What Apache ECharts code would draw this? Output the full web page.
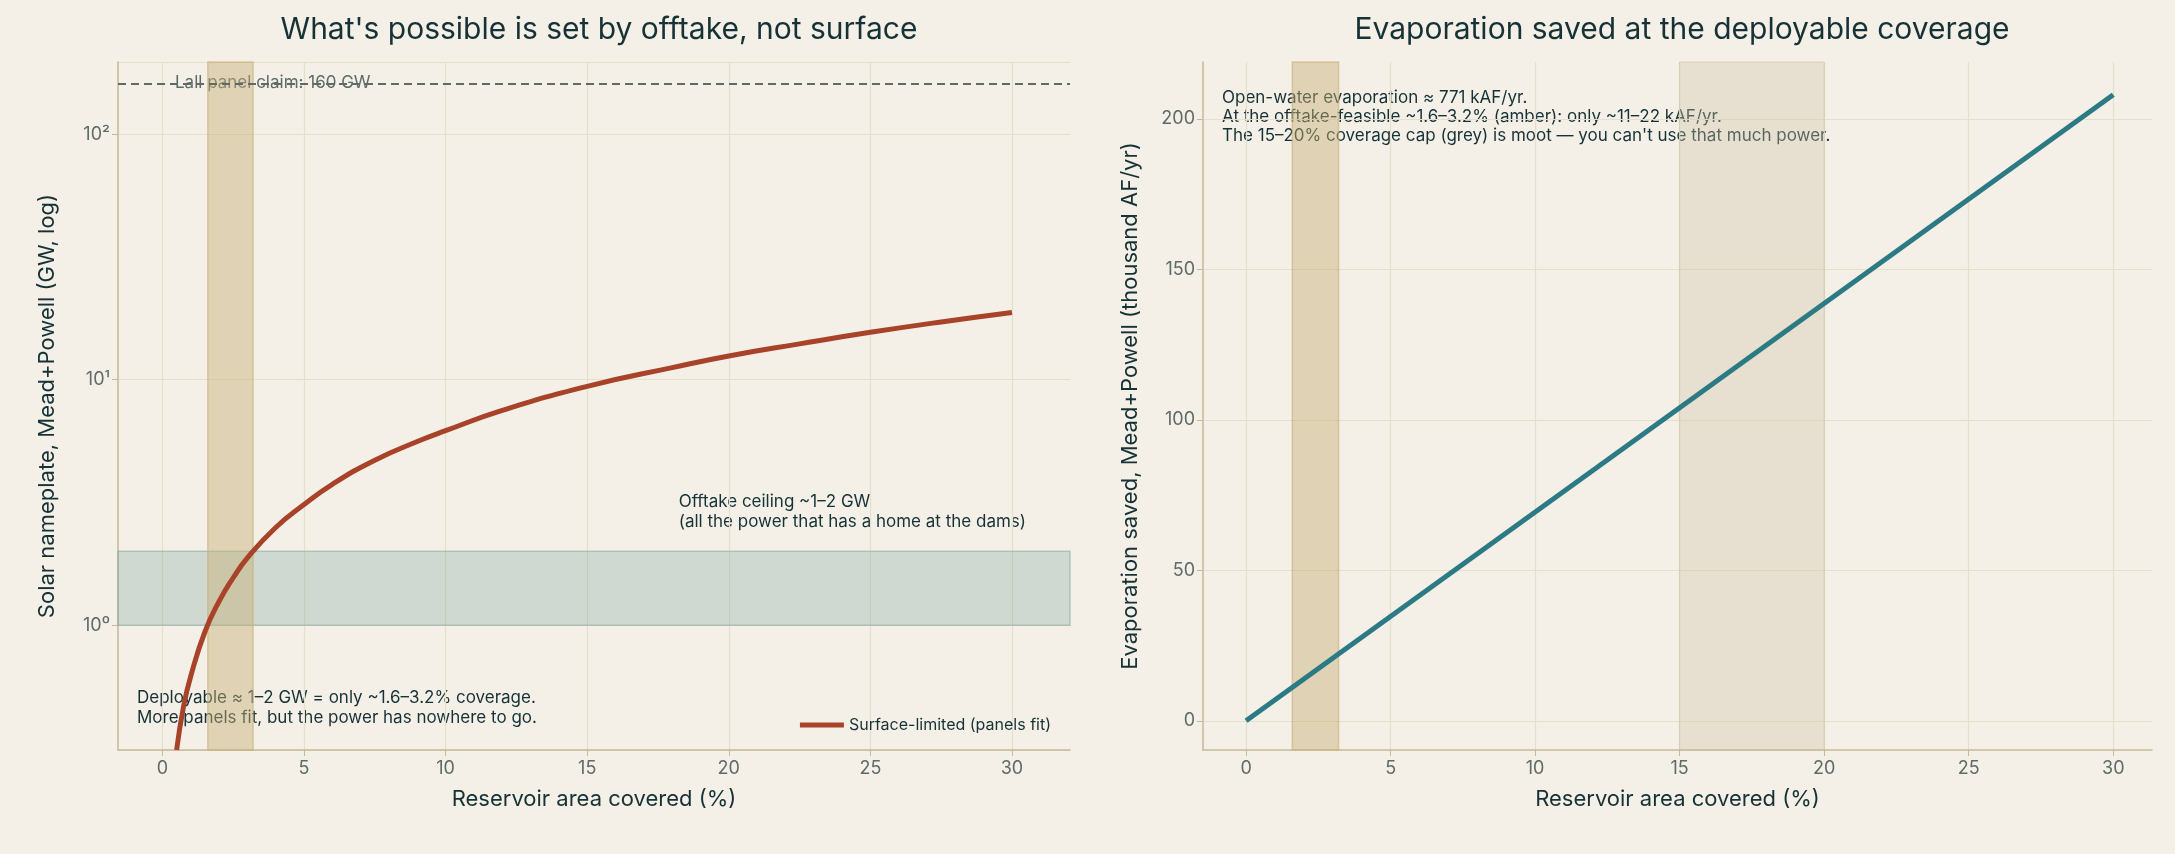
<!DOCTYPE html>
<html><head><meta charset="utf-8">
<script src="https://cdn.jsdelivr.net/npm/echarts@6/dist/echarts.min.js"></script>
<style>html,body{margin:0;background:#f4f0e7;}#c{width:2175px;height:854px;}</style>
</head><body><div id="c"></div>
<script>
// left panel: surface-limited nameplate (GW) vs coverage (%)
const coverPct = [0.5, 0.75, 1, 1.5, 2, 2.5, 3, 4, 5, 6, 7.5, 9, 10, 12, 15, 18, 20, 22.5, 25, 27.5, 30];
const nameplateGW = [0.31, 0.47, 0.62, 0.94, 1.25, 1.56, 1.88, 2.5, 3.1, 3.75, 4.7, 5.6, 6.2, 7.5, 9.4, 11.2, 12.5, 14.0, 15.6, 17.2, 18.8];
// right panel: evaporation saved (thousand AF/yr)
const evapPct = [0, 30];
const evapSaved = [0, 208];
const deployBand = [1.6, 3.2];
const capBand = [15, 20];
const offtakeBand = [1, 2];
const claimGW = 160;
const xTicks = [0, 5, 10, 15, 20, 25, 30];
const evapTicks = [0, 50, 100, 150, 200];

const font = 'Inter, "Noto Sans", sans-serif';
const textCol = '#163236';
const tickCol = '#5f6b68';
const axisCol = '#c6b999';
const gridCol = '#e6dfcb';

const xAxisBase = {
  type: 'value',
  name: 'Reservoir area covered (%)', nameLocation: 'middle', nameGap: 38,
  nameTextStyle: {fontSize: 22, color: textCol, fontFamily: font},
  axisLine: {onZero: false, lineStyle: {color: axisCol, width: 1.5}},
  axisTick: {show: true, length: 6, lineStyle: {color: axisCol}, customValues: xTicks},
  axisLabel: {fontSize: 18, color: tickCol, fontFamily: font, margin: 10, customValues: xTicks},
  splitLine: {show: true, lineStyle: {color: gridCol, width: 1.2}}
};
const pairs = (xs, ys) => xs.map((x, i) => [x, ys[i]]);
const sup = {'0': '⁰', '1': '¹', '2': '²', '3': '³'};

const chart = echarts.init(document.getElementById('c'));
chart.setOption({
  backgroundColor: '#f4f0e7',
  animation: false,
  title: [
    {text: "What's possible is set by offtake, not surface", left: 594, top: 10, textAlign: 'center',
     textStyle: {fontSize: 30, fontWeight: 'normal', color: textCol, fontFamily: font}},
    {text: 'Evaporation saved at the deployable coverage', left: 1677, top: 10, textAlign: 'center',
     textStyle: {fontSize: 30, fontWeight: 'normal', color: textCol, fontFamily: font}}
  ],
  grid: [
    {left: 118, width: 952, top: 62, height: 688},
    {left: 1203, width: 949, top: 62, height: 688}
  ],
  xAxis: [
    Object.assign({}, xAxisBase, {gridIndex: 0, min: -1.57, max: 32.05}),
    Object.assign({}, xAxisBase, {gridIndex: 1, min: -1.49, max: 31.34})
  ],
  yAxis: [
    {gridIndex: 0, type: 'log', logBase: 10, min: 0.31, max: 197,
     name: 'Solar nameplate, Mead+Powell (GW, log)', nameLocation: 'middle', nameGap: 60,
     nameTextStyle: {fontSize: 22, color: textCol, fontFamily: font},
     axisLine: {show: true, onZero: false, lineStyle: {color: axisCol, width: 1.5}},
     axisTick: {show: true, length: 6, lineStyle: {color: axisCol}},
     axisLabel: {fontSize: 18, color: tickCol, fontFamily: font, showMinLabel: false, showMaxLabel: false,
       formatter: v => '10' + String(Math.round(Math.log10(v))).split('').map(d => sup[d] || '').join('')},
     splitLine: {show: true, lineStyle: {color: gridCol, width: 1.2}}},
    {gridIndex: 1, type: 'value', min: -9.7, max: 218.9,
     name: 'Evaporation saved, Mead+Powell (thousand AF/yr)', nameLocation: 'middle', nameGap: 62,
     nameTextStyle: {fontSize: 22, color: textCol, fontFamily: font},
     axisLine: {show: true, onZero: false, lineStyle: {color: axisCol, width: 1.5}},
     axisTick: {show: true, length: 6, lineStyle: {color: axisCol}, customValues: evapTicks},
     axisLabel: {fontSize: 18, color: tickCol, fontFamily: font, customValues: evapTicks},
     splitLine: {show: true, lineStyle: {color: gridCol, width: 1.2}}}
  ],
  legend: {
    data: ['Surface-limited (panels fit)'], right: 1119, top: 712, icon: 'rect', itemWidth: 44, itemHeight: 5,
    textStyle: {fontSize: 16, color: textCol, fontFamily: font}
  },
  series: [
    {type: 'line', xAxisIndex: 0, yAxisIndex: 0, data: [], silent: true,
     markArea: {silent: true, itemStyle: {color: 'rgba(126,166,160,0.3)', borderColor: 'rgba(126,166,160,0.5)', borderWidth: 1.5},
       data: [[{yAxis: offtakeBand[0], x: 118}, {yAxis: offtakeBand[1], x: 1070}]]}},
    {type: 'line', xAxisIndex: 0, yAxisIndex: 0, data: [], silent: true,
     markArea: {silent: true, itemStyle: {color: 'rgba(200,176,120,0.45)', borderColor: 'rgba(200,176,120,0.6)', borderWidth: 1.5},
       data: [[{xAxis: deployBand[0]}, {xAxis: deployBand[1]}]]},
     markLine: {silent: true, symbol: 'none', lineStyle: {color: '#5f6b68', type: [8, 5], width: 1.8},
       label: {show: false}, data: [{yAxis: claimGW}]}},
    {name: 'Surface-limited (panels fit)', type: 'line', xAxisIndex: 0, yAxisIndex: 0, data: pairs(coverPct, nameplateGW),
     smooth: true, showSymbol: false, color: '#a8432a', lineStyle: {width: 5, color: '#a8432a'}, clip: true},
    {type: 'line', xAxisIndex: 1, yAxisIndex: 1, data: [], silent: true,
     markArea: {silent: true, itemStyle: {color: 'rgba(200,176,120,0.45)', borderColor: 'rgba(200,176,120,0.6)', borderWidth: 1.5},
       data: [[{xAxis: deployBand[0]}, {xAxis: deployBand[1]}]]}},
    {type: 'line', xAxisIndex: 1, yAxisIndex: 1, data: [], silent: true,
     markArea: {silent: true, itemStyle: {color: 'rgba(205,195,170,0.35)', borderColor: 'rgba(190,180,150,0.4)', borderWidth: 1},
       data: [[{xAxis: capBand[0]}, {xAxis: capBand[1]}]]}},
    {type: 'line', xAxisIndex: 1, yAxisIndex: 1, data: pairs(evapPct, evapSaved),
     showSymbol: false, lineStyle: {width: 5, color: '#2b7a84'}}
  ],
  graphic: [
    {type: 'text', left: 175, top: 74, silent: true,
     style: {text: 'Lall panel claim: 160 GW', fontSize: 17, fill: '#5f6b68', fontFamily: font}},
    {type: 'text', right: 1149, top: 492, silent: true,
     style: {text: 'Offtake ceiling ~1–2 GW\n(all the power that has a home at the dams)', fontSize: 17, lineHeight: 20, fill: textCol, fontFamily: font, align: 'right'}},
    {type: 'text', left: 137, top: 688, silent: true,
     style: {text: 'Deployable ≈ 1–2 GW = only ~1.6–3.2% coverage.\nMore panels fit, but the power has nowhere to go.', fontSize: 17, lineHeight: 20, fill: textCol, fontFamily: font}},
    {type: 'text', left: 1222, top: 88, silent: true,
     style: {text: 'Open-water evaporation ≈ 771 kAF/yr.\nAt the offtake-feasible ~1.6–3.2% (amber): only ~11–22 kAF/yr.\nThe 15–20% coverage cap (grey) is moot — you can\'t use that much power.', fontSize: 17, lineHeight: 19, fill: textCol, fontFamily: font}}
  ]
});
</script></body></html>
